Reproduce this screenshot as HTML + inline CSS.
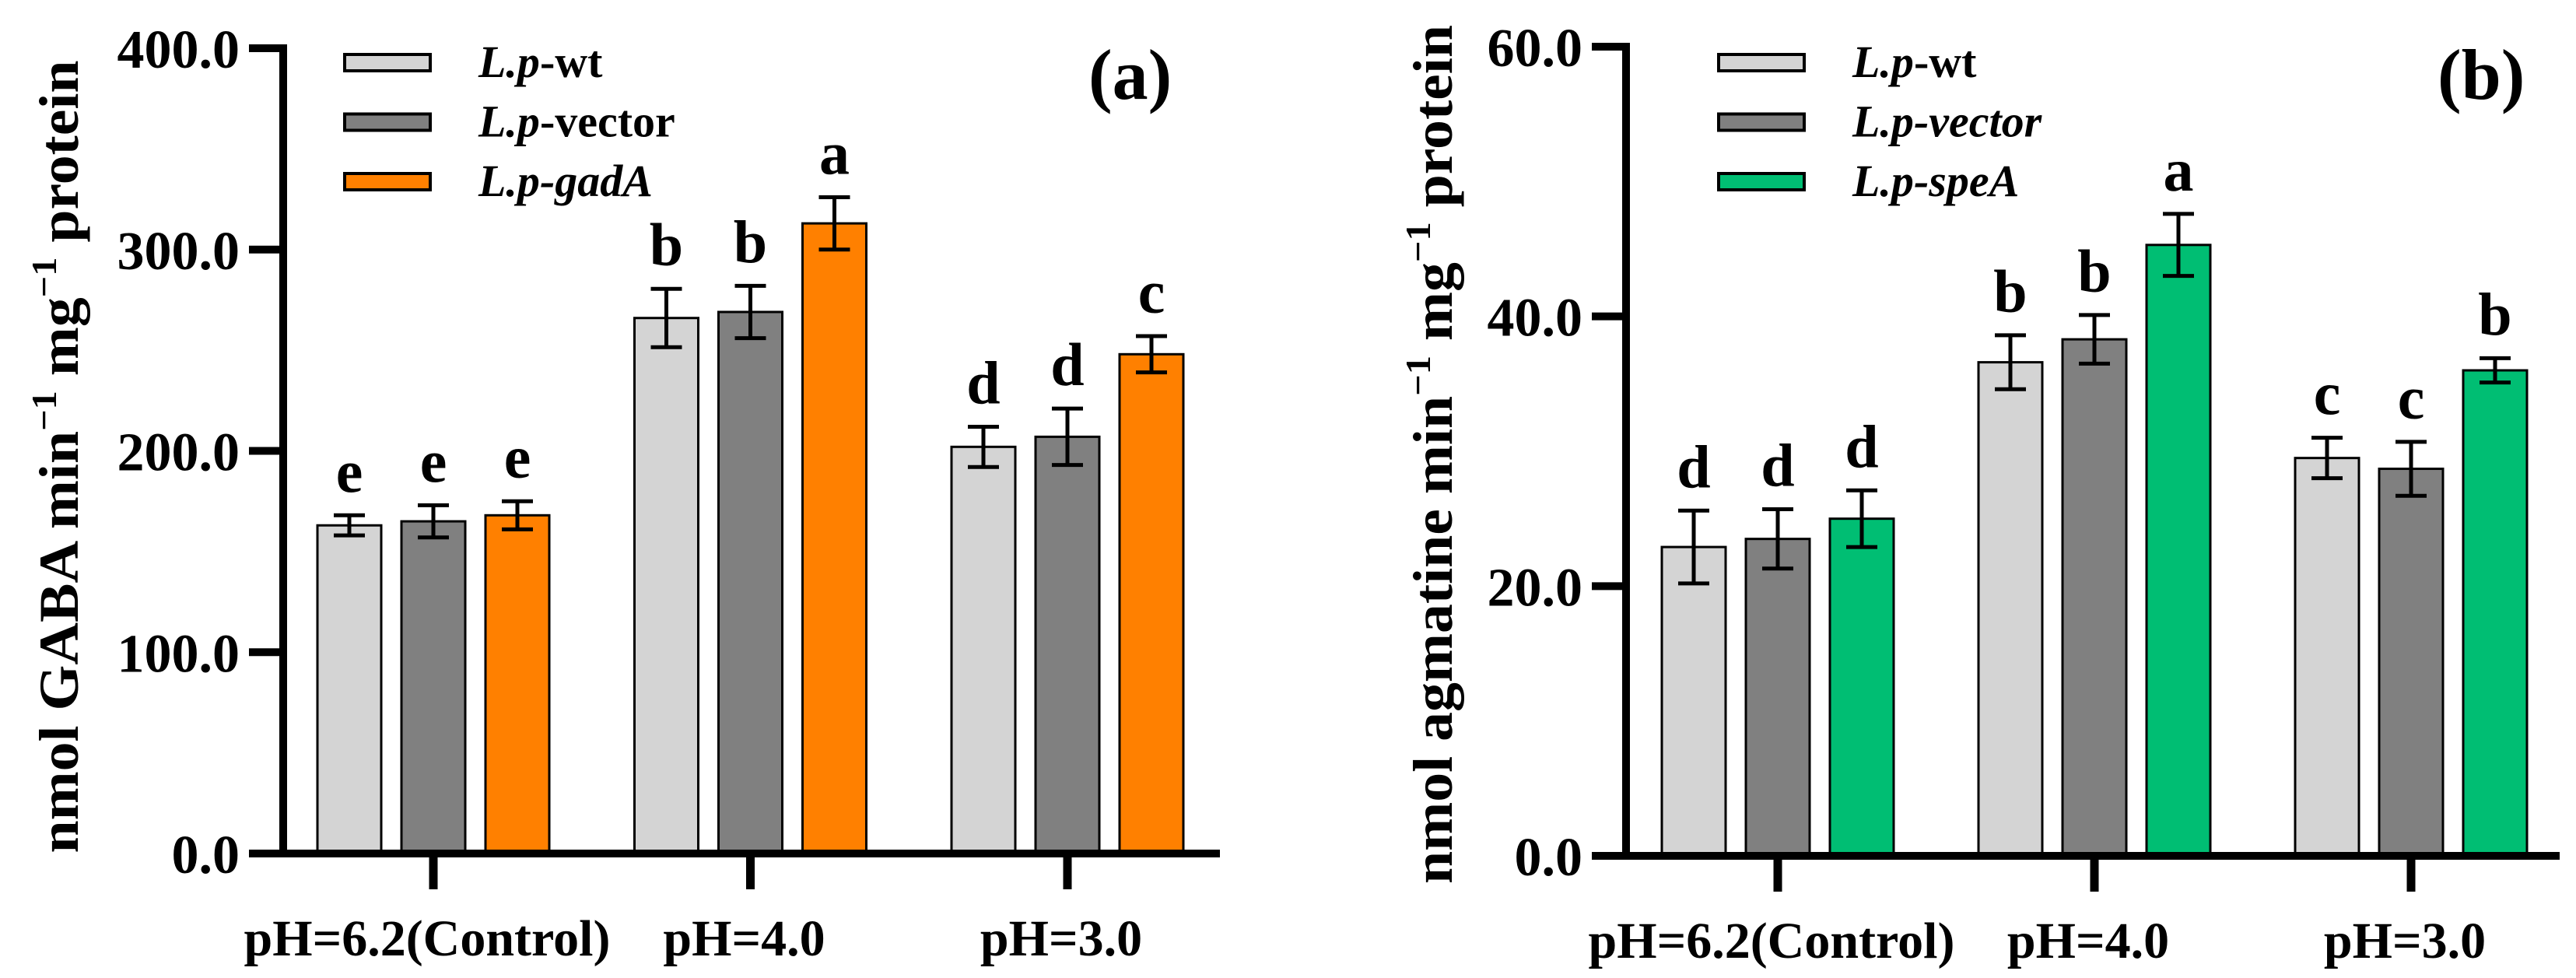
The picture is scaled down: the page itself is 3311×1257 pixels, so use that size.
<!DOCTYPE html>
<html><head><meta charset="utf-8"><style>
html,body{margin:0;padding:0;background:#fff;}
svg{display:block;font-family:"Liberation Serif",serif;font-weight:bold;}
</style></head><body>
<svg id="fig" width="3311" height="1257" viewBox="0 0 3311 1257" xmlns="http://www.w3.org/2000/svg"></svg>
<script>
const categories = ["pH=6.2(Control)", "pH=4.0", "pH=3.0"];
const aWt = [163, 266, 202];
const aVector = [165, 269, 207];
const aGadA = [168, 313, 248];
const aWtErr = [5, 14.5, 10];
const aVectorErr = [8, 13, 14];
const aGadAErr = [7, 13, 9];
const aLetters = [["e","e","e"],["b","b","a"],["d","d","c"]];
const aTicks = [0, 100, 200, 300, 400];
const aTickLabels = ["0.0", "100.0", "200.0", "300.0", "400.0"];
const bWt = [22.9, 36.6, 29.5];
const bVector = [23.5, 38.3, 28.7];
const bSpeA = [25.0, 45.3, 36.0];
const bWtErr = [2.7, 2.0, 1.5];
const bVectorErr = [2.2, 1.8, 2.0];
const bSpeAErr = [2.1, 2.3, 0.9];
const bLetters = [["d","d","d"],["b","b","a"],["c","c","b"]];
const bTicks = [0, 20, 40, 60];
const bTickLabels = ["0.0", "20.0", "40.0", "60.0"];

const NS = "http://www.w3.org/2000/svg";
const svg = document.getElementById("fig");
function mk(tag, attrs, parent, text){
  const e = document.createElementNS(NS, tag);
  for (const k in attrs) e.setAttribute(k, attrs[k]);
  if (text !== undefined) e.textContent = text;
  (parent || svg).appendChild(e);
  return e;
}

function chart(cfg){
  const g = mk("g", {});
  
  
  const y = v => cfg.y0 - (v / cfg.max) * (cfg.y0 - cfg.yTop);
  const cx = i => cfg.c0 + i * cfg.cStep;
  const series = cfg.series;
  for (let s = 0; s < series.length; s++){
    for (let i = 0; i < categories.length; i++){
      const v = series[s].vals[i], e = series[s].errs[i];
      const xc = cx(i) + (s - 1) * 108;
      const r = mk("rect", {x: xc - 41, y: y(v), width: 82, height: cfg.y0 - y(v), fill: series[s].color, stroke: "#000", "stroke-width": 3}, g);
      
      
      const eb = mk("path", {d: `M${xc} ${y(v+e)}V${y(v-e)}M${xc-20} ${y(v+e)}H${xc+20}M${xc-20} ${y(v-e)}H${xc+20}`, stroke: "#000", "stroke-width": 5, fill: "none"}, g);
      
      
      const t = mk("text", {x: xc, y: y(v+e) - 30, "text-anchor": "middle", "font-size": 78}, g, cfg.letters[i][s]);
      
      
    }
  }
  const ax = mk("path", {d: `M${cfg.ax} ${cfg.yTop-5}V${cfg.y0}H${cfg.xEnd}`, stroke: "#000", "stroke-width": 10, fill: "none"}, g);
  
  
  for (let k = 0; k < cfg.ticks.length; k++){
    const ty = y(cfg.ticks[k]);
    const tk = mk("line", {x1: cfg.ax - 44, x2: cfg.ax, y1: ty, y2: ty, stroke: "#000", "stroke-width": 10}, g);
    
    
    const tl = mk("text", {x: cfg.ax - 56, y: ty + 25, "text-anchor": "end", "font-size": 70}, g, cfg.tickLabels[k]);
    
    
  }
  for (let i = 0; i < categories.length; i++){
    const tk = mk("line", {x1: cx(i), x2: cx(i), y1: cfg.y0, y2: cfg.y0 + 46, stroke: "#000", "stroke-width": 11}, g);
    
    
    const tl = mk("text", {x: cx(i) - 8, y: cfg.y0 + 131, "text-anchor": "middle", "font-size": 66}, g, categories[i]);
    
    
  }
  const tt = mk("text", {transform: `translate(${cfg.titleX},${cfg.titleY}) rotate(-90)`, "text-anchor": "middle", "font-size": 72, textLength: cfg.titleLen, lengthAdjust: "spacingAndGlyphs"}, g);
  
  
  mk("tspan", {}, tt, cfg.titleA + " min");
  mk("tspan", {dy: -28, "font-size": 46}, tt, "\u22121");
  mk("tspan", {dy: 28}, tt, " mg");
  mk("tspan", {dy: -28, "font-size": 46}, tt, "\u22121");
  mk("tspan", {dy: 28}, tt, " protein");
  for (let s = 0; s < series.length; s++){
    const ly = 70 + s * 76.5;
    const sw = mk("rect", {x: cfg.legX, y: ly, width: 110, height: 21, fill: series[s].color, stroke: "#000", "stroke-width": 4}, g);
    
    
    const lt = mk("text", {x: cfg.legX + 172, y: ly + 29, "font-size": 58}, g);
    
    
    mk("tspan", {"font-style": "italic"}, lt, "L.p");
    mk("tspan", {"font-style": series[s].italicSuffix ? "italic" : "normal"}, lt, "-" + series[s].label);
  }
  const pl = mk("text", {x: cfg.panelX, y: 127, "font-size": 92}, g, cfg.panel);
  
  
}

chart({name: "chart-a-gaba", y0: 1097, yTop: 62, max: 400, c0: 557, cStep: 407.5, ax: 364, xEnd: 1568,
  ticks: aTicks, tickLabels: aTickLabels, letters: aLetters,
  series: [
    {key: "wt", label: "wt", vals: aWt, errs: aWtErr, color: "#d4d4d4", italicSuffix: false},
    {key: "vector", label: "vector", vals: aVector, errs: aVectorErr, color: "#808080", italicSuffix: false},
    {key: "gadA", label: "gadA", vals: aGadA, errs: aGadAErr, color: "#ff8000", italicSuffix: true}],
  titleX: 100, titleY: 587, titleLen: 1019, titleA: "nmol GABA",
  legX: 443, panelX: 1399, panel: "(a)"});

chart({name: "chart-b-agmatine", y0: 1100, yTop: 60, max: 60, c0: 2285, cStep: 407, ax: 2090, xEnd: 3290,
  ticks: bTicks, tickLabels: bTickLabels, letters: bLetters,
  series: [
    {key: "wt", label: "wt", vals: bWt, errs: bWtErr, color: "#d4d4d4", italicSuffix: false},
    {key: "vector", label: "vector", vals: bVector, errs: bVectorErr, color: "#808080", italicSuffix: true},
    {key: "speA", label: "speA", vals: bSpeA, errs: bSpeAErr, color: "#00be73", italicSuffix: true}],
  titleX: 1866, titleY: 584, titleLen: 1104, titleA: "nmol agmatine",
  legX: 2209, panelX: 3133, panel: "(b)"});
</script>
</body></html>
